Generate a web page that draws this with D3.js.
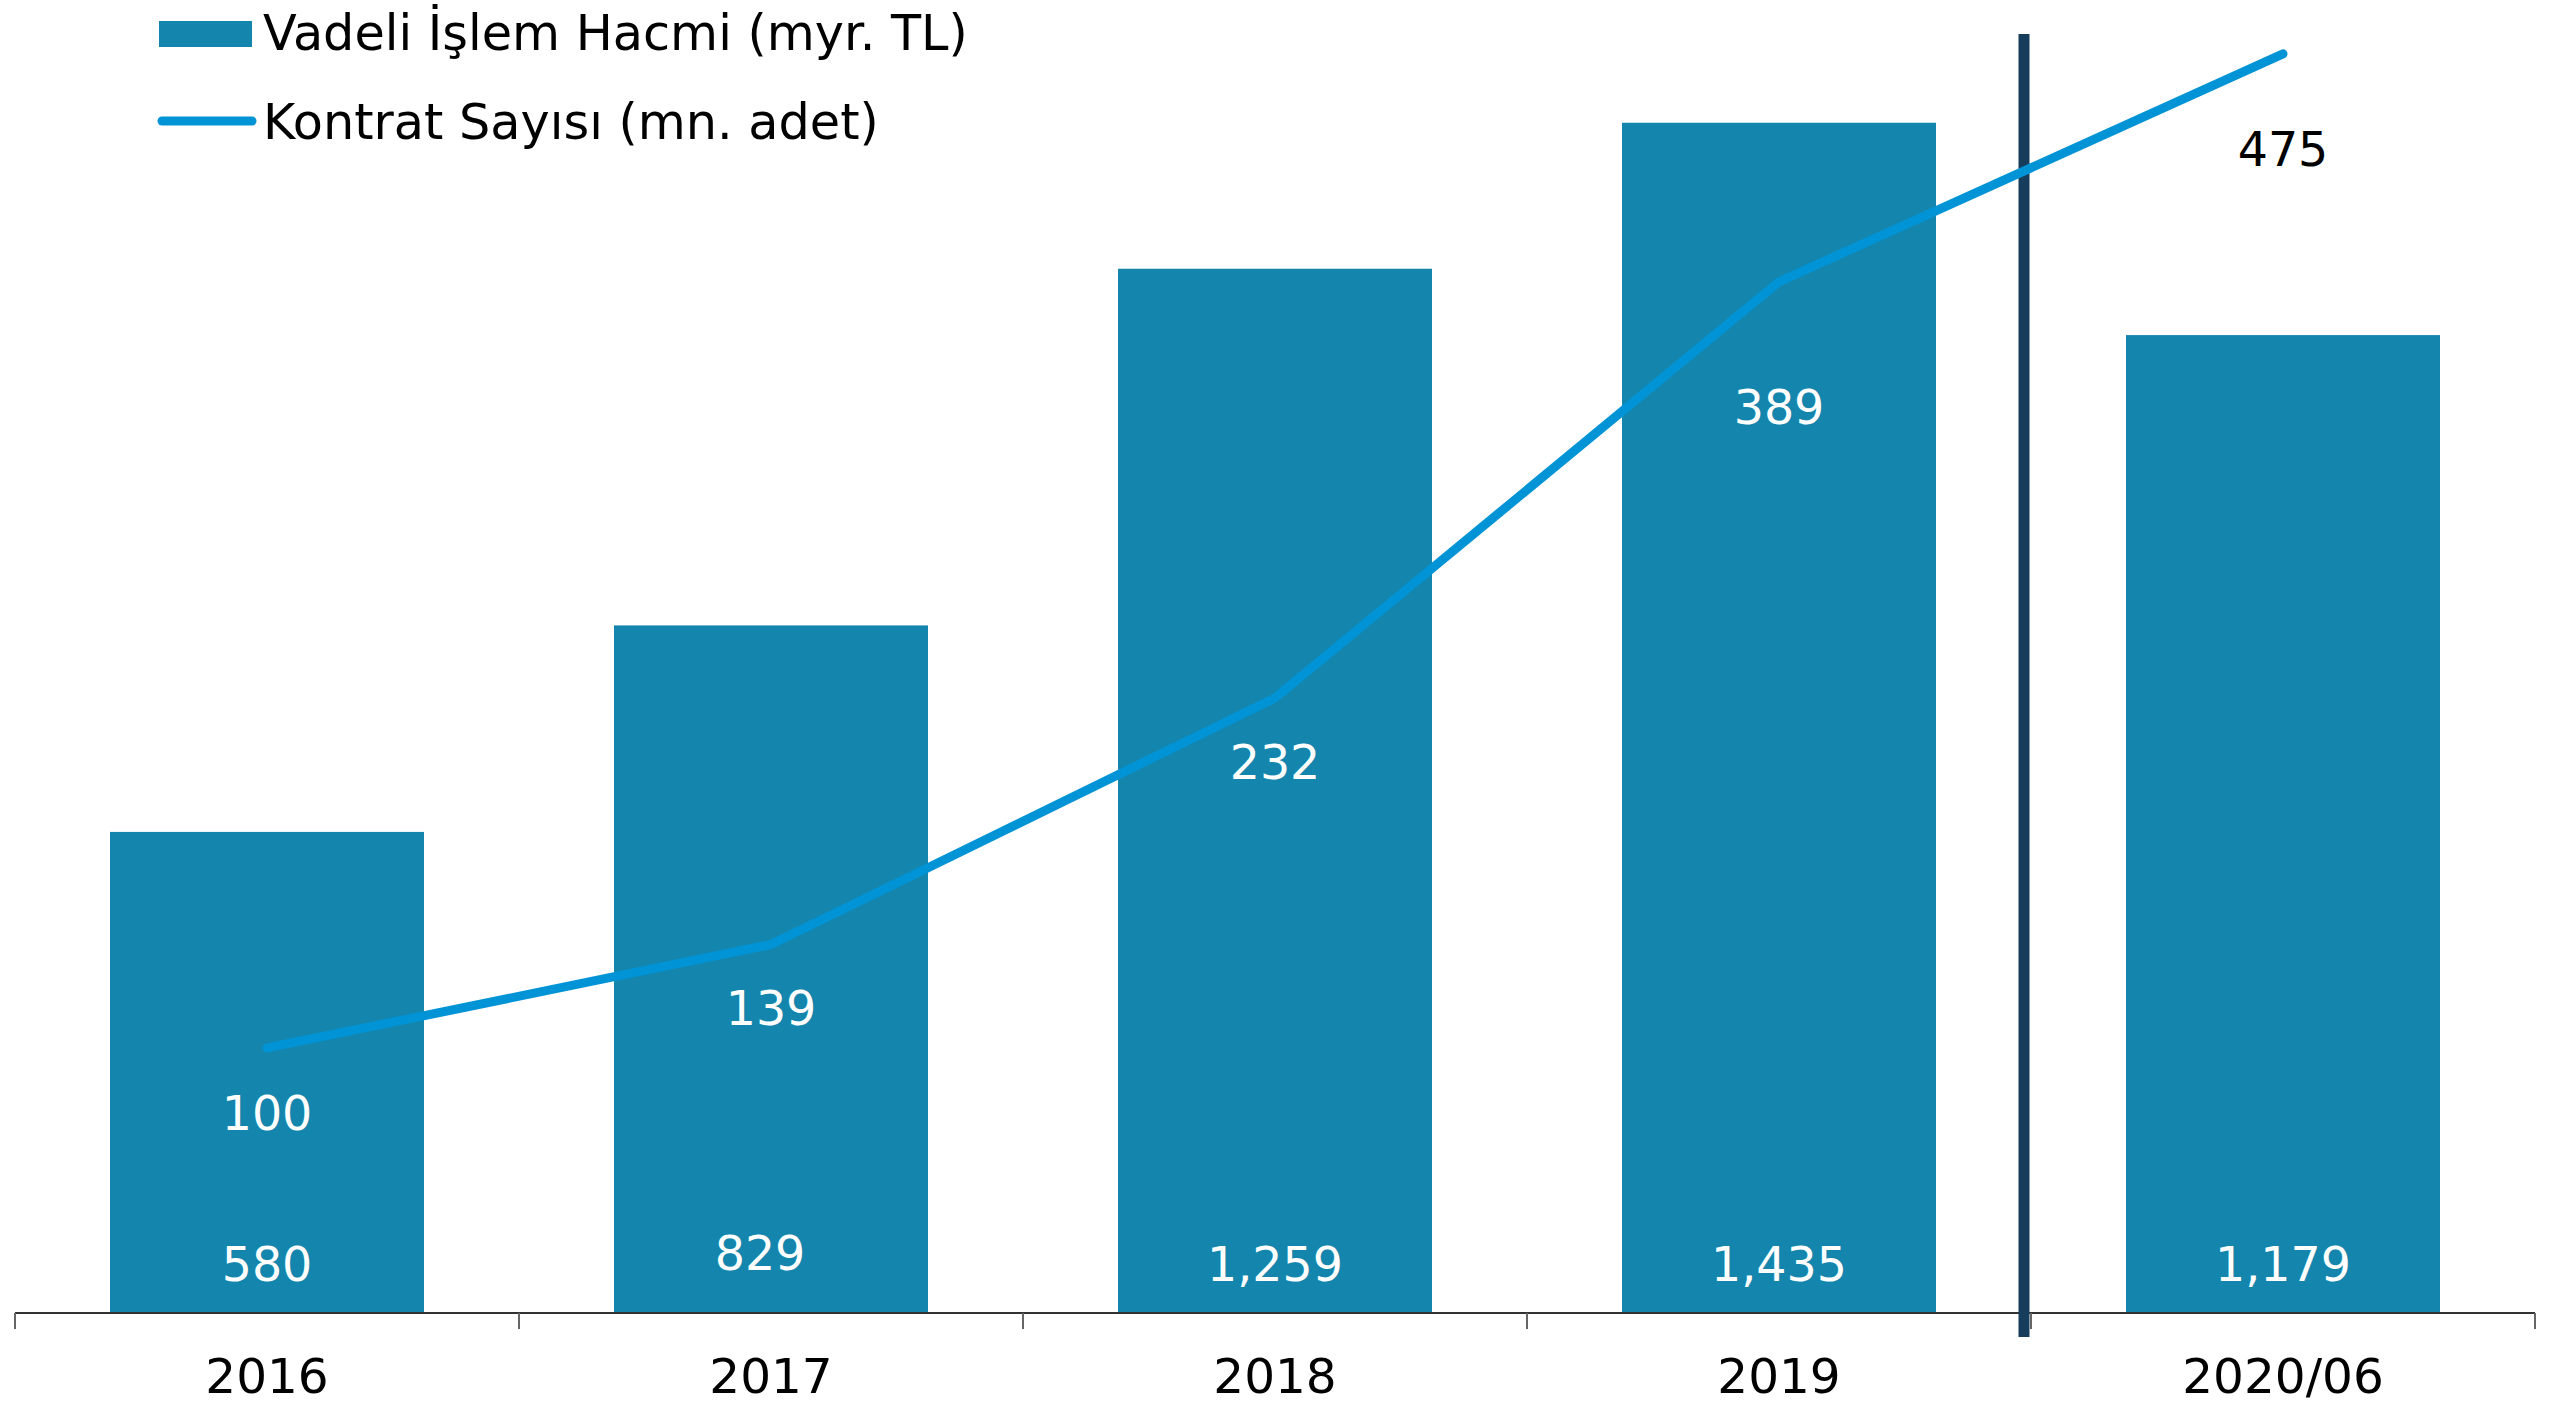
<!DOCTYPE html>
<html><head><meta charset="utf-8">
<script src="https://cdn.jsdelivr.net/npm/d3@7"></script>
<style>html,body{margin:0;padding:0;background:#fff;}svg{display:block;}</style>
</head><body>
<svg id="chart" width="2574" height="1408"></svg>
<script>
const categories = ["2016", "2017", "2018", "2019", "2020/06"];
const volumeValues = [580, 829, 1259, 1435, 1179];       // Vadeli İşlem Hacmi (myr. TL)
const contractValues = [100, 139, 232, 389, 475];        // Kontrat Sayısı (mn. adet)
const volumeLabels = ["580", "829", "1,259", "1,435", "1,179"];
const contractLabels = ["100", "139", "232", "389", "475"];
const legendNames = ["Vadeli İşlem Hacmi (myr. TL)", "Kontrat Sayısı (mn. adet)"];

const W = 2574, H = 1408;
const baseY = 1313;
const font = "'DejaVu Sans', Verdana, sans-serif";
const barColor = "#1485ad", lineColor = "#0094d6", dividerColor = "#173d5c";

const svg = d3.select("#chart");

const x = d3.scaleBand().domain(categories).range([15, 2535]).paddingInner(0.377).paddingOuter(0.1885);
const yBar = d3.scaleLinear().domain([0, 1583]).range([baseY, 0]);
const yLine = d3.scaleLinear().domain([0, 495.3]).range([baseY, 0]);
const step = x.step();
const cx = d => x(d) + x.bandwidth() / 2;
const bound = d => x(d) - step * x.paddingInner() / 2;

// bars
svg.append("g").selectAll("rect").data(categories).join("rect")
  .attr("x", d => x(d)).attr("width", x.bandwidth())
  .attr("y", (d, i) => yBar(volumeValues[i]))
  .attr("height", (d, i) => baseY - yBar(volumeValues[i]))
  .attr("fill", barColor);

// axis line + ticks at band boundaries
const axisG = svg.append("g");
axisG.append("line").attr("x1", 15).attr("x2", 2535).attr("y1", baseY).attr("y2", baseY)
  .attr("stroke", "#333").attr("stroke-width", 2);
const bounds = categories.map(bound).concat([bound(categories[categories.length - 1]) + step]);
axisG.selectAll("line.tick").data(bounds).join("line").attr("class", "tick")
  .attr("x1", d => d).attr("x2", d => d).attr("y1", baseY).attr("y2", baseY + 16)
  .attr("stroke", "#666").attr("stroke-width", 2);
axisG.selectAll("text").data(categories).join("text")
  .attr("x", d => cx(d)).attr("y", 1393)
  .attr("text-anchor", "middle").attr("font-family", font).attr("font-size", 48.5)
  .attr("fill", "#000").text(d => d);

// divider line between 2019 and 2020/06
const divX = bound("2020/06") - 7;
svg.append("line").attr("x1", divX).attr("x2", divX).attr("y1", 34).attr("y2", 1337)
  .attr("stroke", dividerColor).attr("stroke-width", 11);

// line series
const line = d3.line().x((d, i) => cx(categories[i])).y(d => yLine(d));
svg.append("path").datum(contractValues).attr("d", line)
  .attr("fill", "none").attr("stroke", lineColor).attr("stroke-width", 9)
  .attr("stroke-linecap", "round").attr("stroke-linejoin", "round");

// bar value labels
const barLabelShift = [[0, 0], [-11, -11], [0, 0], [0, 0], [0, 0]];
svg.append("g").selectAll("text").data(volumeLabels).join("text")
  .attr("x", (d, i) => cx(categories[i]) + barLabelShift[i][0])
  .attr("y", (d, i) => 1281 + barLabelShift[i][1])
  .attr("text-anchor", "middle").attr("font-family", font).attr("font-size", 47.5)
  .attr("fill", "#fff").text(d => d);

// line value labels
const lineLabelDy = [65, 63, 64, 125, 95];
svg.append("g").selectAll("text").data(contractLabels).join("text")
  .attr("x", (d, i) => cx(categories[i]))
  .attr("y", (d, i) => yLine(contractValues[i]) + lineLabelDy[i] + 17)
  .attr("text-anchor", "middle").attr("font-family", font).attr("font-size", 47.5)
  .attr("fill", (d, i) => i === contractLabels.length - 1 ? "#000" : "#fff").text(d => d);

// legend
const lg = svg.append("g");
lg.append("rect").attr("x", 159).attr("y", 21).attr("width", 93).attr("height", 26).attr("fill", barColor);
lg.append("line").attr("x1", 162).attr("x2", 252).attr("y1", 121).attr("y2", 121)
  .attr("stroke", lineColor).attr("stroke-width", 9).attr("stroke-linecap", "round");
lg.selectAll("text").data(legendNames).join("text")
  .attr("x", 263).attr("y", (d, i) => 50 + i * 89)
  .attr("font-family", font).attr("font-size", 49.3).attr("fill", "#000").text(d => d);
</script>
</body></html>
